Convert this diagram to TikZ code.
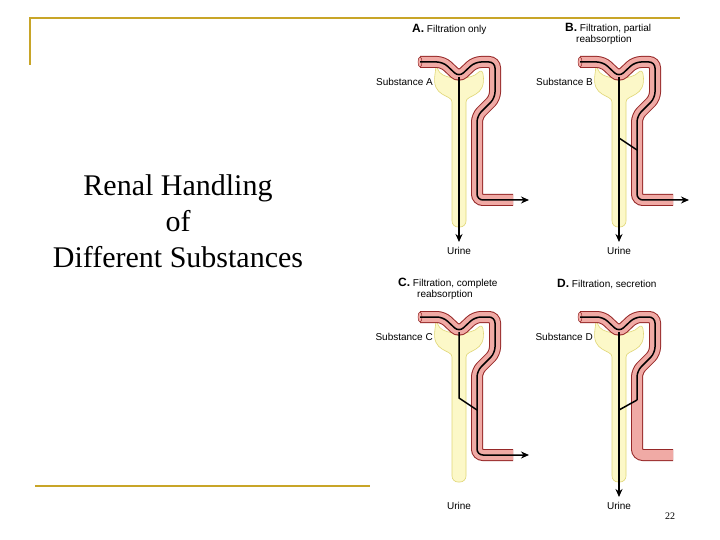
\documentclass[tikz,border=0pt]{standalone}
\usepackage{fontspec}
\setmainfont{Liberation Serif}
\newfontfamily\labelfont{Liberation Sans}
\usepackage{tikz}
\usetikzlibrary{positioning,arrows.meta}
\definecolor{gold}{RGB}{200,165,40}
\definecolor{vessel}{RGB}{240,170,165}
\definecolor{vesselrim}{RGB}{150,40,40}
\definecolor{capsule}{RGB}{252,248,200}
\definecolor{capsulerim}{RGB}{225,215,120}

\tikzset{
  frameline/.style={gold, line width=2.5pt},
  label/.style={font=\labelfont\fontsize{10}{10.5}\selectfont, inner sep=1pt},
  flow/.style={black, line width=1.5pt},
  flowend/.style={flow, -{Stealth[length=8pt,width=7pt]}},
}

% capillary course of one nephron
\newcommand{\capillarypath}{(420,62) -- (443,62) -- (459,77) -- (475,62) -- (495,62) -- (495,98) -- (477,116) -- (477,200) -- (513,200)}

\begin{document}
\begin{tikzpicture}[x=1pt,y=-1pt]
	\useasboundingbox (0,0) rectangle (720,540);
	\fill[white] (0,0) rectangle (720,540);
	
	% frame lines
	\draw[frameline] (30,65) -- (30,18) -- (680,18);
	\draw[frameline] (35,486) -- (370,486);
	
	\node[align=center, font=\fontsize{30}{36}\selectfont] (title) at (178,221)
		{Renal Handling\\of\\Different Substances};
	
	\foreach \dx/\dy/\p/\sub in {0/0/A/Substance A, 160/0/B/Substance B, 0/255/C/Substance C, 160/255/D/Substance D}{
		\begin{scope}[shift={(\dx,\dy)}]
			% capsule and tubule
			\draw[capsulerim, fill=capsule, line width=0.6pt, rounded corners=6pt]
				(436,68) .. controls (431,98) and (452,94) .. (452,108) -- (452,227) -- (466,227) -- (466,108)
				.. controls (466,94) and (487,98) .. (482,68) .. controls (472,80) and (446,80) .. (436,68) -- cycle;
			% capillary
			\draw[vesselrim, line width=12pt, rounded corners=6pt] \capillarypath;
			\draw[vessel, line width=10pt, rounded corners=6pt] \capillarypath;
			\draw[vesselrim, fill=vessel, line width=0.5pt] (420,62) ellipse (2pt and 5pt);
			\node[label, anchor=east] (sub\p) at (434,82) {\sub};
			\node[label] (urine\p) at (459,251) {Urine};
			\coordinate (glom\p) at (459,77);
		\end{scope}
	}
	
	% titles
	\node[label, anchor=west] (tA) at (411,29) {\textbf{\large A.} Filtration only};
	\node[label, anchor=west, align=left] (tB) at (564,34) {\textbf{\large B.} Filtration, partial\\\hspace{1.1em}reabsorption};
	\node[label, anchor=west, align=left] (tC) at (397,289) {\textbf{\large C.} Filtration, complete\\\hspace{1.9em}reabsorption};
	\node[label, anchor=west] (tD) at (556,284) {\textbf{\large D.} Filtration, secretion};
	
	% A: filtration only
	\draw[flowend, rounded corners=6pt] (420,62) -- (443,62) -- (459,77) -- (475,62) -- (495,62) -- (495,98) -- (477,116) -- (477,200) -- (529,200);
	\draw[flowend] (glomA) -- (459,242);
	
	% B: partial reabsorption
	\draw[flowend, rounded corners=6pt] (580,62) -- (603,62) -- (619,77) -- (635,62) -- (655,62) -- (655,98) -- (637,116) -- (637,200) -- (689,200);
	\draw[flowend] (glomB) -- (619,242);
	\draw[flow] (619,138) -- (637,150);
	
	% C: complete reabsorption
	\draw[flowend, rounded corners=6pt] (420,317) -- (443,317) -- (459,332) -- (475,317) -- (495,317) -- (495,353) -- (477,371) -- (477,455) -- (529,455);
	\draw[flow] (glomC) -- (459,398) -- (477,410);
	
	% D: secretion
	\draw[flow, rounded corners=6pt] (580,317) -- (603,317) -- (619,332) -- (635,317) -- (655,317) -- (655,353) -- (637,371) -- (637,400);
	\draw[flow] (637,400) -- (619,410);
	\draw[flowend] (glomD) -- (619,497);
	
	\node[font=\fontsize{10}{11}\selectfont] (page) at (670,516) {22};
\end{tikzpicture}
\end{document}
